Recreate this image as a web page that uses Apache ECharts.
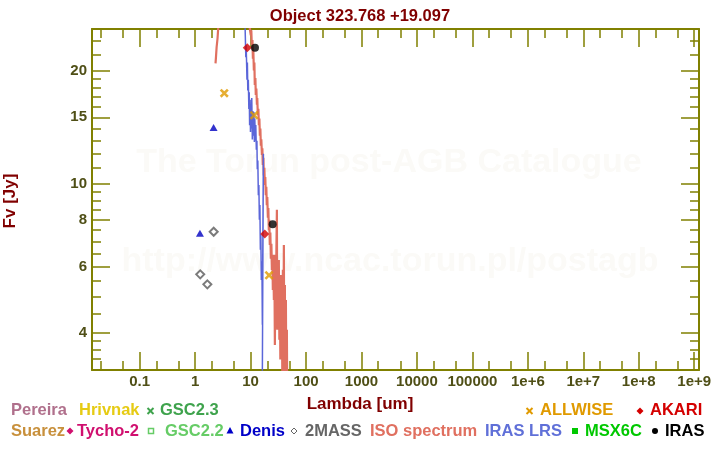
<!DOCTYPE html>
<html><head><meta charset="utf-8">
<script src="https://cdn.jsdelivr.net/npm/echarts@6/dist/echarts.min.js"></script>
<style>html,body{margin:0;padding:0;background:#fff}#c{width:720px;height:450px}</style>
</head><body><div id="c"></div>
<script>
// ---------- texts ----------
const titleText = 'Object 323.768 +19.097';
const xName = 'Lambda [um]';
const yName = 'Fv [Jy]';
const watermark1 = 'The Torun post-AGB Catalogue';
const watermark2 = 'http://www.ncac.torun.pl/postagb';

// ---------- axes ----------
const xRange = [0.0138, 1.22e9];
const yRange = [3.18, 25.8];
const xTickValues = [0.1, 1, 10, 100, 1000, 10000, 100000, 1e6, 1e7, 1e8, 1e9];
const xTickLabels = ['0.1', '1', '10', '100', '1000', '10000', '100000', '1e+6', '1e+7', '1e+8', '1e+9'];
const xMinorTicks = [0.02, 0.05, 0.2, 0.5, 2, 5, 20, 50, 200, 500, 2000, 5000, 2e4, 5e4, 2e5, 5e5, 2e6, 5e6, 2e7, 5e7, 2e8, 5e8];
const yTickValues = [4, 6, 8, 10, 15, 20];
const yTickLabels = ['4', '6', '8', '10', '15', '20'];
const yMinorTicks = [3.4, 3.6, 3.8, 4.5, 5, 5.5, 6.5, 7, 7.5, 8.5, 9, 9.5, 11, 12, 13, 14, 16, 17, 18, 19, 22, 24];

// ---------- data (wavelength um, flux Jy) ----------
const isoWave = [2.33, 2.38, 2.44, 2.53, 2.60, 2.68, 3.5, 5.0, 7.0, 9.0, 9.70, 10.1, 10.3, 10.5, 10.8, 11.0, 11.2, 11.45, 11.7, 11.9, 12.2, 12.4, 12.7, 13.0, 13.2, 13.5, 13.8, 14.1, 14.4, 14.7, 15.0, 15.3, 15.6, 16.0, 16.3, 16.6, 17.0, 17.3, 17.7, 18.1, 18.4, 18.8, 19.2, 19.6, 20.0, 20.5, 20.9, 21.3, 21.7, 22.2, 22.7, 23.2, 23.7, 24.2, 24.7, 25.2, 25.7, 26.3, 26.8, 27.4, 28.0, 28.6, 29.2, 29.8, 30.2, 31.0, 31.6, 32.3, 33.0, 33.7, 34.4, 35.2, 35.9, 36.6, 37.4, 38.2, 39.0, 39.8, 40.6, 41.5, 42.4, 43.3, 44.2, 45.1, 46.0];
const isoFlux = [20.9, 21.8, 23.1, 24.3, 25.8, 28, 32, 36, 33, 29, 25.8, 24.8, 25.6, 23.4, 24.1, 21.5, 22.6, 20.0, 21.0, 18.3, 19.1, 17.2, 17.9, 16.2, 16.9, 15.2, 15.8, 14.3, 14.9, 13.4, 14.0, 12.6, 13.1, 11.9, 12.4, 11.2, 11.7, 10.5, 11.0, 9.9, 10.4, 9.3, 9.8, 8.75, 9.2, 8.1, 8.6, 7.5, 8.0, 6.85, 7.4, 6.3, 6.9, 5.88, 6.45, 5.2, 6.15, 4.89, 6.45, 3.71, 5.88, 4.6, 6.65, 8.5, 4.07, 6.05, 4.33, 6.25, 3.83, 5.53, 3.39, 5.7, 3.6, 5.2, 2.9, 5.88, 3.19, 6.85, 2.8, 5.36, 2.7, 4.89, 2.6, 4.07, 2.4];
const lrsWave = [7.96, 8.0, 8.2, 8.3, 8.45, 8.6, 8.75, 8.9, 9.1, 9.3, 9.45, 9.6, 9.8, 9.95, 10.1, 10.3, 10.5, 10.75, 11.0, 11.2, 11.45, 11.7, 11.9, 12.2, 12.4, 12.7, 13.0, 13.2, 13.5, 13.8, 14.1, 14.4, 14.7, 15.0, 15.3, 15.6, 16.0, 16.3, 17.0, 16.2];
const lrsFlux = [26.5, 25.2, 21.7, 23.4, 21.3, 18.9, 21.0, 17.7, 18.9, 15.8, 17.5, 14.3, 16.7, 13.7, 16.2, 14.0, 16.9, 13.1, 15.6, 13.4, 15.5, 12.9, 14.9, 13.0, 14.3, 12.3, 13.0, 10.9, 11.5, 9.3, 9.9, 8.0, 8.75, 6.65, 7.3, 5.53, 6.2, 4.2, 12.0, 2.6];
const allwiseWave = [3.35, 11.6, 21.5];
const allwiseFlux = [17.4, 15.2, 5.69];
const akariWave = [8.7, 18];
const akariFlux = [23.0, 7.33];
const irasWave = [12, 25];
const irasFlux = [23.0, 7.78];
const denisWave = [1.22, 2.15];
const denisFlux = [7.36, 14.1];
const twomassWave = [1.235, 1.66, 2.16];
const twomassFlux = [5.72, 5.38, 7.43];

// ---------- legend ----------
const legendRow1 = ['Pereira', 'Hrivnak', 'GSC2.3', 'ALLWISE', 'AKARI'];
const legendRow2 = ['Suarez', 'Tycho-2', 'GSC2.2', 'Denis', '2MASS', 'ISO spectrum', 'IRAS LRS', 'MSX6C', 'IRAS'];

// ---------- styling ----------
const FONT = '"Liberation Sans", Arial, sans-serif';
const AXIS = '#808000';
const LABEL = '#4f4f16';
const DARKRED = '#800000';
const L = Math.log10;
const zip = (a, b) => a.map((v, i) => [v, b[i]]);

function decoAxis(kind, pos, ticks, len, labels, showLine) {
  const r = kind === 'x' ? xRange : yRange;
  const o = {
    type: 'value', position: pos, min: L(r[0]), max: L(r[1]), silent: true,
    splitLine: { show: false },
    axisLine: { show: showLine, onZero: false, lineStyle: { color: AXIS, width: 2 } },
    axisTick: { show: true, inside: true, length: len, customValues: ticks.map(L), lineStyle: { color: AXIS, width: 1.5 } },
    axisLabel: { show: false }
  };
  if (labels) {
    o.axisLabel = {
      show: true, customValues: ticks.map(L), margin: kind === 'x' ? 4 : 5,
      color: LABEL, fontSize: 15, fontWeight: 'bold', fontFamily: FONT,
      formatter: v => { const i = ticks.findIndex(t => Math.abs(L(t) - v) < 1e-6); return i >= 0 ? labels[i] : ''; }
    };
  }
  return o;
}

const xAxes = [
  { type: 'log', logBase: 10, min: xRange[0], max: xRange[1], show: false },
  decoAxis('x', 'bottom', xTickValues, 18, xTickLabels, true),
  decoAxis('x', 'bottom', xMinorTicks, 9, null, false),
  decoAxis('x', 'top', xTickValues, 18, null, true),
  decoAxis('x', 'top', xMinorTicks, 9, null, false)
];
const yAxes = [
  { type: 'log', logBase: 10, min: yRange[0], max: yRange[1], show: false },
  decoAxis('y', 'left', yTickValues, 18, yTickLabels, true),
  decoAxis('y', 'left', yMinorTicks, 9, null, false),
  decoAxis('y', 'right', yTickValues, 18, null, true),
  decoAxis('y', 'right', yMinorTicks, 9, null, false)
];

const crossPath = 'path://M0,2L2,0L5,3L8,0L10,2L7,5L10,8L8,10L5,7L2,10L0,8L3,5Z';

const series = [
  { name: 'ISO spectrum', type: 'line', data: zip(isoWave, isoFlux), symbol: 'none', showSymbol: false, clip: true,
    lineStyle: { color: '#e07060', width: 2.2 }, z: 2 },
  { name: 'IRAS LRS', type: 'line', data: zip(lrsWave, lrsFlux), symbol: 'none', showSymbol: false, clip: true,
    lineStyle: { color: '#5b66d9', width: 1.5 }, z: 3 },
  { name: '2MASS', type: 'scatter', data: zip(twomassWave, twomassFlux), symbol: 'emptyDiamond', symbolSize: 8,
    itemStyle: { color: '#5a5a5a', borderWidth: 1 }, z: 4 },
  { name: 'Denis', type: 'scatter', data: zip(denisWave, denisFlux), symbol: 'triangle', symbolSize: [8, 7],
    itemStyle: { color: '#0000c0' }, z: 4 },
  { name: 'ALLWISE', type: 'scatter', data: zip(allwiseWave, allwiseFlux), symbol: crossPath, symbolSize: 9,
    itemStyle: { color: '#e09a00' }, z: 4 },
  { name: 'AKARI', type: 'scatter', data: zip(akariWave, akariFlux), symbol: 'diamond', symbolSize: 9,
    itemStyle: { color: '#d40000' }, z: 5 },
  { name: 'IRAS', type: 'scatter', data: zip(irasWave, irasFlux), symbol: 'circle', symbolSize: 8,
    itemStyle: { color: '#000000' }, z: 5 }
];

// ---------- graphic texts ----------
function txt(text, x, y, color, size, align, extra) {
  return Object.assign({
    type: 'text', x: x, y: y, silent: true,
    style: { text: text, fill: color, font: 'bold ' + size + 'px ' + FONT,
      textAlign: align || 'left', align: align || 'left', textVerticalAlign: 'middle', verticalAlign: 'middle' }
  }, extra || {});
}
const legendColors = {
  'Pereira': '#b0708c', 'Hrivnak': '#e6cb14', 'GSC2.3': '#3fa34d', 'ALLWISE': '#e09a00', 'AKARI': '#d40000',
  'Suarez': '#c8903c', 'Tycho-2': '#d0106f', 'GSC2.2': '#66cc66', 'Denis': '#0000c8', '2MASS': '#666666',
  'ISO spectrum': '#e07060', 'IRAS LRS': '#6070d8', 'MSX6C': '#00c800', 'IRAS': '#000000'
};
const legendX = {
  'Pereira': 11, 'Hrivnak': 79, 'GSC2.3': 160, 'ALLWISE': 540, 'AKARI': 650,
  'Suarez': 11, 'Tycho-2': 77, 'GSC2.2': 165, 'Denis': 240, '2MASS': 305,
  'ISO spectrum': 370, 'IRAS LRS': 485, 'MSX6C': 585, 'IRAS': 665
};
const ROW1 = 410, ROW2 = 431;
const graphics = [
  txt(watermark1, 389, 163, '#fbfaf7', 34, 'center', { z: -10 }),
  txt(watermark2, 390, 262, '#fbfaf7', 34, 'center', { z: -10 }),
  txt(xName, 360, 404, DARKRED, 17, 'center'),
  txt(yName, 10, 201, DARKRED, 17, 'center', { rotation: Math.PI / 2 })
];
legendRow1.forEach(n => graphics.push(txt(n, legendX[n], ROW1, legendColors[n], 16.5, 'left')));
legendRow2.forEach(n => graphics.push(txt(n, legendX[n], ROW2, legendColors[n], 16.5, 'left')));

function crossMark(cx, cy, c) {
  return [
    { type: 'line', shape: { x1: cx - 3, y1: cy - 3, x2: cx + 3, y2: cy + 3 }, style: { stroke: c, lineWidth: 2 } },
    { type: 'line', shape: { x1: cx - 3, y1: cy + 3, x2: cx + 3, y2: cy - 3 }, style: { stroke: c, lineWidth: 2 } }
  ];
}
function diamond(cx, cy, r, c, empty) {
  return { type: 'polygon', shape: { points: [[cx, cy - r], [cx + r, cy], [cx, cy + r], [cx - r, cy]] },
    style: empty ? { fill: '#fff', stroke: c, lineWidth: 1 } : { fill: c } };
}
graphics.push(...crossMark(150.5, ROW1 + 1, legendColors['GSC2.3']));
graphics.push(...crossMark(529.5, ROW1 + 1, legendColors['ALLWISE']));
graphics.push(diamond(640, ROW1 + 1, 3.5, legendColors['AKARI']));
graphics.push(diamond(70, ROW2, 3.5, legendColors['Tycho-2']));
graphics.push({ type: 'rect', shape: { x: 148.5, y: ROW2 - 2.5, width: 5, height: 5 }, style: { fill: '#fff', stroke: legendColors['GSC2.2'], lineWidth: 1.5 } });
graphics.push({ type: 'polygon', shape: { points: [[230, ROW2 - 4], [233.5, ROW2 + 2.5], [226.5, ROW2 + 2.5]] }, style: { fill: legendColors['Denis'] } });
graphics.push(diamond(294, ROW2, 3, legendColors['2MASS'], true));
graphics.push({ type: 'rect', shape: { x: 572, y: ROW2 - 3, width: 6, height: 6 }, style: { fill: legendColors['MSX6C'] } });
graphics.push({ type: 'circle', shape: { cx: 655, cy: ROW2, r: 3 }, style: { fill: legendColors['IRAS'] } });

const chart = echarts.init(document.getElementById('c'), null, { renderer: 'canvas' });
chart.setOption({
  animation: false,
  backgroundColor: '#ffffff',
  title: { text: titleText, left: 'center', top: 3,
    textStyle: { fontFamily: FONT, fontSize: 16.5, fontWeight: 'bold', color: DARKRED } },
  grid: { left: 92, right: 21, top: 29, bottom: 80, containLabel: false },
  xAxis: xAxes,
  yAxis: yAxes,
  series: series,
  graphic: { elements: graphics }
});
</script>
</body></html>
